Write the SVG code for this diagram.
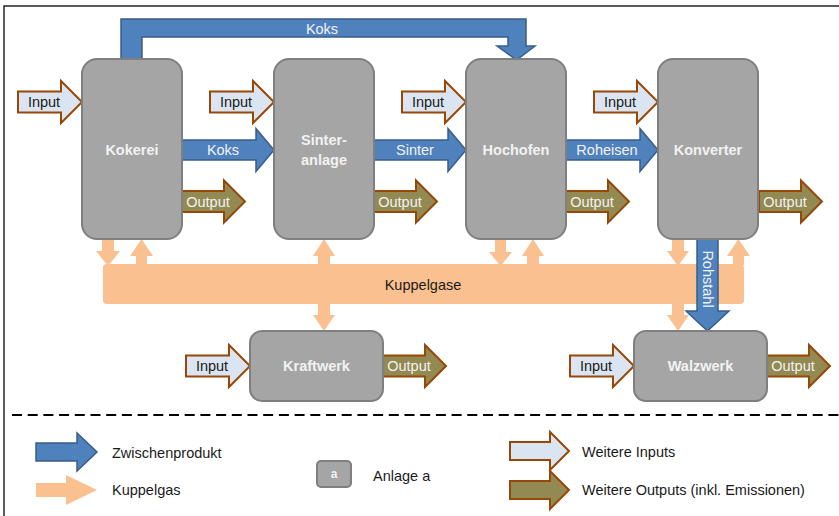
<svg xmlns="http://www.w3.org/2000/svg" xmlns:xlink="http://www.w3.org/1999/xlink" width="839" height="516" viewBox="0 0 839 516">
<style>
text{font-family:"Liberation Sans","Open Sans",Arial,sans-serif;font-size:14.5px}
.node{fill:#a5a5a5;stroke:#7f7f7f;stroke-width:2}
.nl{fill:#f2f2f2;font-weight:bold;text-anchor:middle;dominant-baseline:central}
.blue{fill:#4f81bd;stroke:#385d8a;stroke-width:1.5}
.gas{fill:#fac08f}
.in{fill:#dbe5f1;stroke:#984806;stroke-width:2}
.out{fill:#938953;stroke:#984806;stroke-width:2}
.tin{fill:#1a1a1a;text-anchor:middle;dominant-baseline:central}
.tw{fill:#f2f2f2;text-anchor:middle;dominant-baseline:central}
.leg{fill:#1a1a1a;dominant-baseline:central}
</style>
<defs>
<path id="inA" class="in" d="M-64,-10.5 H-21 V-21 L0,0 L-21,21 V10.5 H-64 Z"/>
<path id="outA" class="out" d="M0,-10.5 H42 V-21 L63,0 L42,21 V10.5 H0 Z"/>
<path id="blueA" class="blue" d="M0,-10 H74 V-21.5 L92,0 L74,21.5 V10 H0 Z"/>
</defs>
<rect width="839" height="516" fill="#ffffff"/>
<path d="M4,516 V6 H839" fill="none" stroke="#262626" stroke-width="1.5"/>

<g id="connectors">
<rect class="gas" x="103" y="264" width="641" height="40" rx="4"/>
<text x="423" y="285" class="tin">Kuppelgase</text>
<path class="gas" d="M102,239 H114 V251 H120 L108,266 L96,251 H102 Z"/>
<path class="gas" d="M136,265 V256 H130 L141.5,239 L153,256 H147 V265 Z"/>
<path class="gas" d="M318,265 V256 H313 L324,239 L335,256 H330 V265 Z"/>
<path class="gas" d="M318,303 H330 V315 H335 L324,331 L313,315 H318 Z"/>
<path class="gas" d="M495,239 H506 V252 H512 L500.5,266 L489,252 H495 Z"/>
<path class="gas" d="M527,265 V256 H522 L533,239 L544,256 H539 V265 Z"/>
<path class="gas" d="M672,239 H684 V251 H689 L678,266 L667,251 H672 Z"/>
<path class="gas" d="M672,303 H684 V315 H689 L678,331 L667,315 H672 Z"/>
<path class="gas" d="M733,265 V256 H727 L738.5,239 L750,256 H744 V265 Z"/>
<path class="blue" d="M121,59 V19 H526 V46 H535 L516.5,60 L497,46 H508 V37 H142 V59 Z"/>
<text x="322" y="28.5" class="tw">Koks</text>
<path class="blue" d="M697,239 H718 V311 H729 L707.5,331 L686,311 H697 Z"/>
<text transform="translate(708,279) rotate(90)" class="tw">Rohstahl</text>
<use href="#blueA" x="182" y="150"/>
<text x="223" y="150" class="tw">Koks</text>
<use href="#blueA" x="374" y="150"/>
<text x="415" y="150" class="tw">Sinter</text>
<use href="#blueA" x="566" y="150"/>
<text x="607" y="150" class="tw">Roheisen</text>
<use href="#inA" x="82" y="102"/>
<text x="44" y="102" class="tin">Input</text>
<use href="#inA" x="274" y="102"/>
<text x="236" y="102" class="tin">Input</text>
<use href="#inA" x="466" y="102"/>
<text x="428" y="102" class="tin">Input</text>
<use href="#inA" x="658" y="102"/>
<text x="620" y="102" class="tin">Input</text>
<use href="#inA" x="250" y="366"/>
<text x="212" y="366" class="tin">Input</text>
<use href="#inA" x="634" y="366"/>
<text x="596" y="366" class="tin">Input</text>
<use href="#outA" x="182" y="201.5"/>
<text x="208" y="201.5" class="tw">Output</text>
<use href="#outA" x="374" y="201.5"/>
<text x="400" y="201.5" class="tw">Output</text>
<use href="#outA" x="566" y="201.5"/>
<text x="592" y="201.5" class="tw">Output</text>
<use href="#outA" x="759" y="201.5"/>
<text x="785" y="201.5" class="tw">Output</text>
<use href="#outA" x="383" y="366"/>
<text x="409" y="366" class="tw">Output</text>
<use href="#outA" x="767" y="366"/>
<text x="793" y="366" class="tw">Output</text>
</g>

<g id="kokerei"><rect class="node" x="82" y="59" width="100" height="180" rx="15"/><text x="132" y="150" class="nl">Kokerei</text></g>
<g id="sinteranlage"><rect class="node" x="274" y="59" width="100" height="180" rx="15"/><text x="324" y="150" class="nl"><tspan x="324" y="140">Sinter-</tspan><tspan x="324" y="160">anlage</tspan></text></g>
<g id="hochofen"><rect class="node" x="466" y="59" width="100" height="180" rx="15"/><text x="516" y="150" class="nl">Hochofen</text></g>
<g id="konverter"><rect class="node" x="658" y="59" width="100" height="180" rx="15"/><text x="708" y="150" class="nl">Konverter</text></g>
<g id="kraftwerk"><rect class="node" x="250" y="331" width="133" height="70" rx="12"/><text x="316.5" y="366" class="nl">Kraftwerk</text></g>
<g id="walzwerk"><rect class="node" x="634" y="331" width="133" height="70" rx="12"/><text x="700.5" y="366" class="nl">Walzwerk</text></g>

<line x1="12" y1="415" x2="839" y2="415" stroke="#000" stroke-width="2" stroke-dasharray="10 5.7"/>

<g id="legend">
<path class="blue" d="M36,443 H77 V433 L97,452 L77,471 V461 H36 Z"/>
<text x="112" y="453" class="leg">Zwischenprodukt</text>
<path class="gas" d="M36,483 H66 V475 L97,490 L66,505 V497 H36 Z"/>
<text x="112" y="490" class="leg">Kuppelgas</text>
<rect class="node" x="317" y="461" width="34" height="26" rx="4"/>
<text x="334" y="474" class="nl" style="font-size:12px">a</text>
<text x="373" y="476" class="leg">Anlage a</text>
<path class="in" d="M510,442 H550 V432 L569,451 L550,470 V460 H510 Z"/>
<text x="582" y="452" class="leg">Weitere Inputs</text>
<path class="out" d="M510,481 H550 V471 L569,490 L550,509 V499 H510 Z"/>
<text x="582" y="490" class="leg">Weitere Outputs (inkl. Emissionen)</text>
</g>
</svg>
